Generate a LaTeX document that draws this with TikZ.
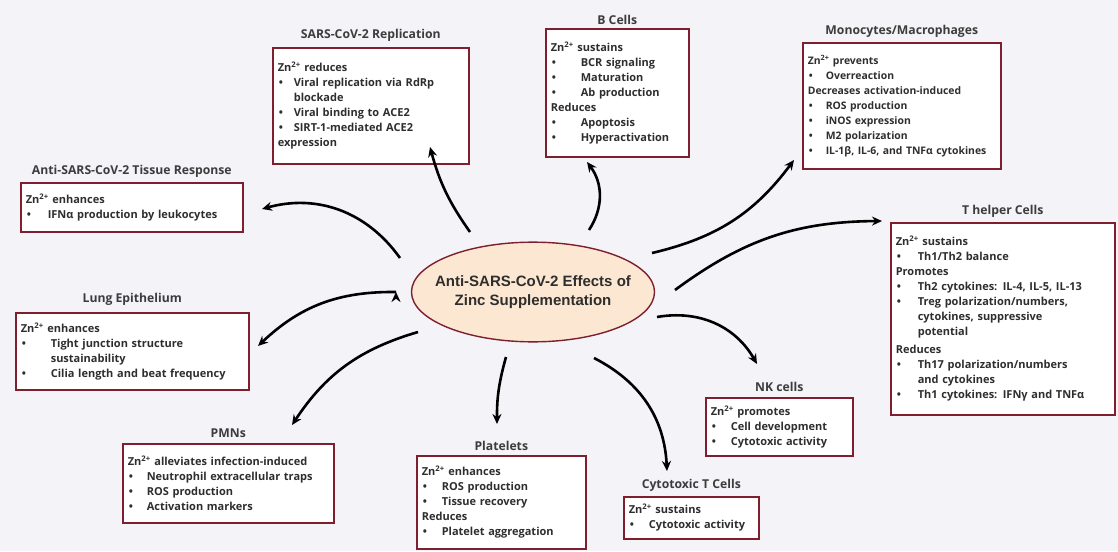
\documentclass[tikz,border=0pt]{standalone}
\usepackage{fontspec}
\setmainfont{Open Sans}
\newfontfamily\hubfont{Liberation Sans}
\usetikzlibrary{positioning, arrows.meta, shapes.geometric}
\definecolor{boxred}{HTML}{7D1F2E}
\definecolor{hubfill}{HTML}{FCE8D2}
\definecolor{bggray}{HTML}{F3F3F8}
\definecolor{textgray}{HTML}{2E2E2E}
\definecolor{titlegray}{HTML}{3C3C3C}
\hyphenpenalty=10000
\newlength{\bulind}\setlength{\bulind}{20pt}
\newcommand{\zn}{Zn\textsuperscript{2+}}
\newcommand{\itm}[1]{\par\hangindent=\bulind\hangafter=1\noindent\makebox[\bulind][l]{\hspace{1pt}\textbullet}#1}
\tikzset{
x=1pt, y=-1pt, % pixel units, y going down
infobox/.style={draw=boxred, line width=1.6pt, fill=white, anchor=north west, inner xsep=5pt, inner ysep=3pt, align=left, text=textgray, font=\bfseries\fontsize{11}{15}\selectfont}, % the red framed boxes
boxtitle/.style={text=titlegray, font=\bfseries\fontsize{12.2}{14}\selectfont, inner sep=0pt}, % headings above the boxes
effect/.style={-{Stealth[length=10pt,width=9pt]}, line width=2.6pt}, % thick black arrows
}

\begin{document}
\begin{tikzpicture}
    \useasboundingbox (0,0) rectangle (1118,551);
    \fill[bggray] (0,0) rectangle (1118,551);

    \node[ellipse, draw=boxred, line width=1.4pt, fill=hubfill, inner xsep=-12pt, inner ysep=19pt, align=center, text=textgray, font=\hubfont\bfseries\fontsize{15}{18.5}\selectfont] (hub) at (533,292) {Anti-SARS-CoV-2 Effects of\\Zinc Supplementation};

    \node[infobox, text width=212pt, minimum height=49pt] (resp) at (20,182) {\setlength{\bulind}{22pt}\zn{} enhances\itm{IFNα production by leukocytes}};
    \node[infobox, text width=186pt, minimum height=116pt] (repl) at (272,47) {\setlength{\bulind}{16pt}\zn{} reduces\itm{Viral replication via RdRp\newline blockade}\itm{Viral binding to ACE2}\itm{SIRT-1-mediated ACE2\newline expression}};
    \node[infobox, text width=133pt, minimum height=128pt] (bcell) at (545,28) {\setlength{\bulind}{30pt}\zn{} sustains\itm{BCR signaling}\itm{Maturation}\itm{Ab production}\par Reduces\itm{Apoptosis}\itm{Hyperactivation}};
    \node[infobox, text width=188pt, minimum height=126pt, font=\bfseries\fontsize{10.4}{15}\selectfont] (mono) at (802,42) {\setlength{\bulind}{18pt}\zn{} prevents\itm{Overreaction}\par Decreases activation-induced\itm{ROS production}\itm{iNOS expression}\itm{M2 polarization}\itm{IL-1β, IL-6, and TNFα cytokines}};
    \node[infobox, text width=214pt, minimum height=192pt] (thelp) at (890,222) {\setlength{\bulind}{22pt}\zn{} sustains\itm{Th1/Th2 balance}\par Promotes\itm{Th2 cytokines: IL-4, IL-5, IL-13}\itm{Treg polarization/numbers,\newline cytokines, suppressive\newline potential}\par\vspace{3pt}Reduces\itm{Th17 polarization/numbers\newline and cytokines}\itm{Th1 cytokines: IFNγ and TNFα}};
    \node[infobox, text width=223pt, minimum height=77pt] (lung) at (15,312) {\setlength{\bulind}{30pt}\zn{} enhances\itm{Tight junction structure\newline sustainability}\itm{Cilia length and beat frequency}};
    \node[infobox, text width=201pt, minimum height=79pt] (pmn) at (122,443) {\setlength{\bulind}{19pt}\zn{} alleviates infection-induced\itm{Neutrophil extracellular traps}\itm{ROS production}\itm{Activation markers}};
    \node[infobox, text width=159pt, minimum height=93pt] (plat) at (416,455) {\zn{} enhances\itm{ROS production}\itm{Tissue recovery}\par Reduces\itm{Platelet aggregation}};
    \node[infobox, text width=125pt, minimum height=42pt] (ctl) at (623,496) {\zn{} sustains\itm{Cytotoxic activity}};
    \node[infobox, text width=137pt, minimum height=58pt] (nk) at (705,397) {\zn{} promotes\itm{Cell development}\itm{Cytotoxic activity}};

    \node[boxtitle, above=4pt of resp] (resp-t) {Anti-SARS-CoV-2 Tissue Response};
    \node[boxtitle, above=5pt of repl] (repl-t) {SARS-CoV-2 Replication};
    \node[boxtitle, above=3pt of bcell] (bcell-t) {B Cells};
    \node[boxtitle, above=4pt of mono] (mono-t) {Monocytes/Macrophages};
    \node[boxtitle, above=4pt of thelp] (thelp-t) {T helper Cells};
    \node[boxtitle, above=6pt of lung] (lung-t) {Lung Epithelium};
    \node[boxtitle, above=5pt of pmn] (pmn-t) {PMNs};
    \node[boxtitle, above=4pt of plat] (plat-t) {Platelets};
    \node[boxtitle, above=4pt of ctl] (ctl-t) {Cytotoxic T Cells};
    \node[boxtitle, above=5pt of nk] (nk-t) {NK cells};

    % arrow tails near the ellipse, heads near the boxes
    \coordinate (t-resp) at (400,258);  \coordinate (h-resp) at (262,209);
    \coordinate (t-repl) at (470,232);  \coordinate (h-repl) at (430,147);
    \coordinate (t-bcell) at (589,230); \coordinate (h-bcell) at (587,162);
    \coordinate (t-mono) at (652,253);  \coordinate (h-mono) at (794,160);
    \coordinate (t-thelp) at (675,290); \coordinate (h-thelp) at (882,221);
    \coordinate (t-nk) at (657,317);    \coordinate (h-nk) at (757,364);
    \coordinate (t-ctl) at (594,358);   \coordinate (h-ctl) at (667,471);
    \coordinate (t-plat) at (506,357);  \coordinate (h-plat) at (497,424);
    \coordinate (t-pmn) at (418,332);   \coordinate (h-pmn) at (292,425);
    \coordinate (t-lung) at (396,292);  \coordinate (h-lung) at (258,346);

    \draw[effect] (t-resp) edge[bend right=35] (h-resp)
    (t-repl) edge[bend left=10] (h-repl)
    (t-bcell) edge[bend right=35] (h-bcell)
    (t-mono) edge[bend right=20] (h-mono)
    (t-thelp) edge[bend left=18] (h-thelp)
    (t-nk) edge[bend left=35] (h-nk)
    (t-ctl) edge[bend left=30] (h-ctl)
    (t-plat) edge[bend right=8] (h-plat)
    (t-pmn) edge[bend right=20] (h-pmn)
    (t-lung) edge[bend right=22] (h-lung);
\end{tikzpicture}
\end{document}
